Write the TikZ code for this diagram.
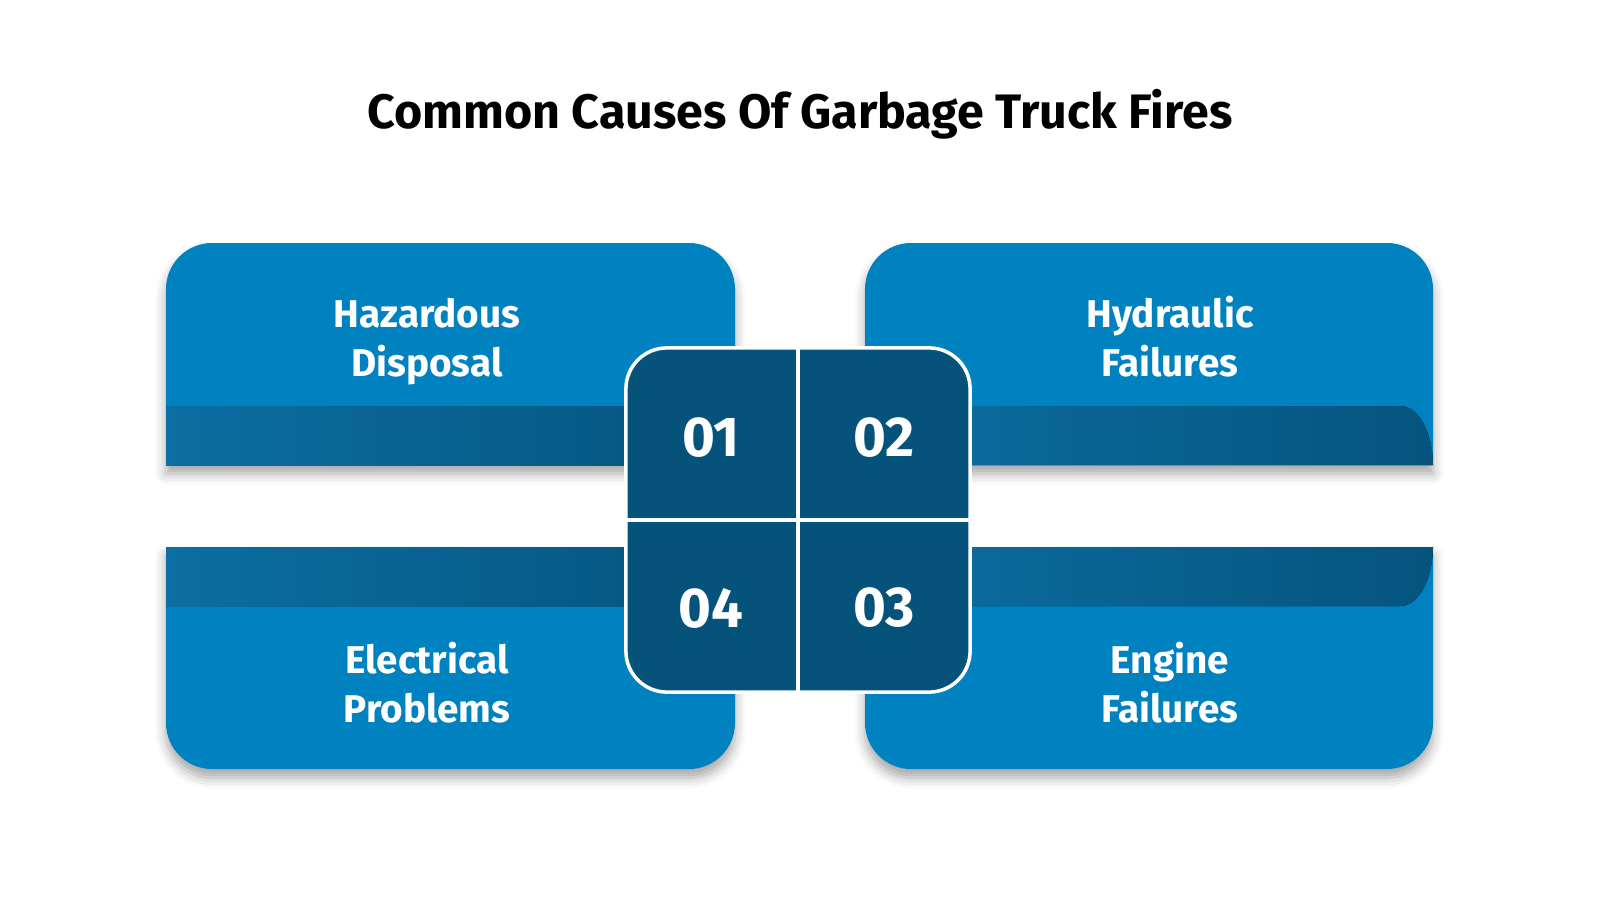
\documentclass[tikz,border=0pt]{standalone}
\usepackage{fontspec}
\setmainfont{Fira Sans}
\usetikzlibrary{shadows.blur}

\definecolor{cardblue}{HTML}{0082C0}
\definecolor{hubblue}{HTML}{05527A}
\definecolor{bandlight}{HTML}{0C6EA2}
\definecolor{banddark}{HTML}{05547E}

\tikzset{
  card/.style={fill=cardblue, blur shadow={shadow xshift=0pt, shadow yshift=-2.5pt,
      shadow blur radius=3pt, shadow opacity=35}},
  band/.style={left color=bandlight, right color=banddark},
  cardtext/.style={text=white, align=center, font=\bfseries\fontsize{11}{14}\selectfont},
  numtext/.style={text=white, font=\bfseries\fontsize{16}{19}\selectfont},
  hubbox/.style={fill=hubblue, draw=white, line width=1pt, minimum width=3.44cm,
      minimum height=3.44cm, rounded corners=0.41cm}
}

\begin{document}
\begin{tikzpicture}[x=0.01cm, y=-0.01cm]
  \useasboundingbox (0,0) rectangle (1600,900);

  \node[font=\bfseries\fontsize{13.75}{16}\selectfont] (title) at (800,114) {Common Causes Of Garbage Truck Fires};

  % top cards
  \fill[card] (166,465) -- (166,289) arc[start angle=180, end angle=270, radius=46]
    -- (689,243) arc[start angle=270, end angle=360, radius=46] -- (735,465) -- cycle;
  \fill[card] (865,465) -- (865,289) arc[start angle=180, end angle=270, radius=46]
    -- (1387,243) arc[start angle=270, end angle=360, radius=46] -- (1433,465) -- cycle;
  \fill[band] (166,406) rectangle (735,465);
  \fill[band] (865,406) -- (1400,406) .. controls (1422,406) and (1433,440) .. (1433,465)
    -- (865,465) -- cycle;

  % bottom cards
  \fill[card] (166,547) -- (735,547) -- (735,723) arc[start angle=0, end angle=90, radius=46]
    -- (212,769) arc[start angle=90, end angle=180, radius=46] -- cycle;
  \fill[card] (865,547) -- (1433,547) -- (1433,723) arc[start angle=0, end angle=90, radius=46]
    -- (911,769) arc[start angle=90, end angle=180, radius=46] -- cycle;
  \fill[band] (166,547) rectangle (735,606);
  \fill[band] (865,547) -- (1433,547) .. controls (1433,572) and (1422,606) .. (1400,606)
    -- (865,606) -- cycle;

  \node[cardtext] (hazard) at (427,342) {\strut Hazardous\\\strut Disposal};
  \node[cardtext] (hydraulic) at (1170,342) {\strut Hydraulic\\\strut Failures};
  \node[cardtext] (electrical) at (427,688) {\strut Electrical\\\strut Problems};
  \node[cardtext] (engine) at (1170,688) {\strut Engine\\\strut Failures};

  % centre block
  \node[hubbox] (hub) at (798,520) {};
  \draw[white, line width=0.9pt] (hub.north) -- (hub.south);
  \draw[white, line width=0.9pt] (hub.west) -- (hub.east);
  \node[numtext] (n01) at (711,438) {01}; \node[numtext] (n02) at (884,438) {02};
  \node[numtext] (n04) at (711,608) {04}; \node[numtext] (n03) at (884,608) {03};
\end{tikzpicture}
\end{document}
